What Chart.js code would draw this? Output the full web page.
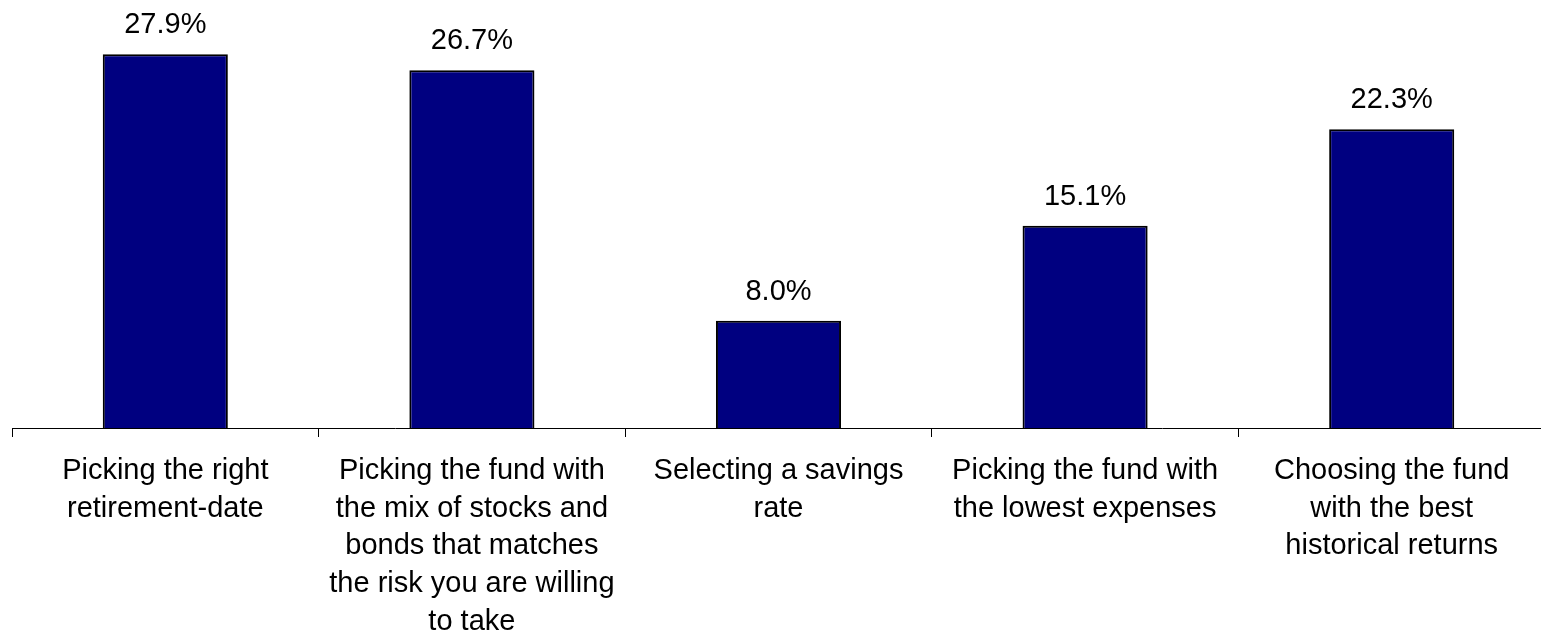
<!DOCTYPE html>
<html>
<head>
<meta charset="utf-8">
<title>Target-date fund choices</title>
<script src="https://cdn.jsdelivr.net/npm/chart.js@4.4.1/dist/chart.umd.min.js"></script>
<style>
  html, body { margin: 0; padding: 0; background: #fff; overflow: hidden; }
  #wrap { width: 1545px; height: 638px; position: relative; }
</style>
</head>
<body>
<div id="wrap"><canvas id="choiceChart"></canvas></div>
<script>
const CATEGORIES = [
  ["Picking the right", "retirement-date"],
  ["Picking the fund with", "the mix of stocks and", "bonds that matches", "the risk you are willing", "to take"],
  ["Selecting a savings", "rate"],
  ["Picking the fund with", "the lowest expenses"],
  ["Choosing the fund", "with the best", "historical returns"]
];
const SHARES = [27.9, 26.7, 8.0, 15.1, 22.3];
const Y_MIN = 0;
const Y_MAX = 30;

const FONT = "'Liberation Sans', Arial, Helvetica, sans-serif";

// writes the percentage above each bar
const valueLabels = {
  id: "valueLabels",
  afterDatasetsDraw(chart) {
    const ctx = chart.ctx;
    const meta = chart.getDatasetMeta(0);
    ctx.save();
    ctx.font = `29px ${FONT}`;
    ctx.fillStyle = "#000";
    ctx.textAlign = "center";
    ctx.textBaseline = "alphabetic";
    meta.data.forEach((bar, i) => {
      ctx.fillText(SHARES[i].toFixed(1) + "%", bar.x, bar.y - 21);
    });
    ctx.restore();
  }
};

const ctx = document.getElementById("choiceChart").getContext("2d");
new Chart(ctx, {
  type: "bar",
  data: {
    labels: CATEGORIES,
    datasets: [{
      data: SHARES,
      backgroundColor: "#000080",
      borderColor: "#000000",
      borderWidth: 2,
      barPercentage: 0.408,
      categoryPercentage: 1.0
    }]
  },
  options: {
    responsive: true,
    maintainAspectRatio: false,
    animation: false,
    layout: { padding: { top: 26, left: 12, right: 0, bottom: 0 } },
    scales: {
      x: {
        offset: true,
        afterFit: s => { s.height = 210; },
        border: { display: true, color: "#000", width: 1 },
        grid: {
          offset: true,
          drawOnChartArea: false,
          drawTicks: true,
          tickLength: 9,
          color: "#000",
          lineWidth: 1
        },
        ticks: {
          autoSkip: false,
          maxRotation: 0,
          minRotation: 0,
          padding: 15,
          color: "#000",
          font: { family: FONT, size: 29, lineHeight: 1.3 }
        }
      },
      y: {
        display: false,
        min: Y_MIN,
        max: Y_MAX
      }
    },
    plugins: {
      legend: { display: false },
      tooltip: { enabled: false }
    }
  },
  plugins: [valueLabels]
});
</script>
</body>
</html>
